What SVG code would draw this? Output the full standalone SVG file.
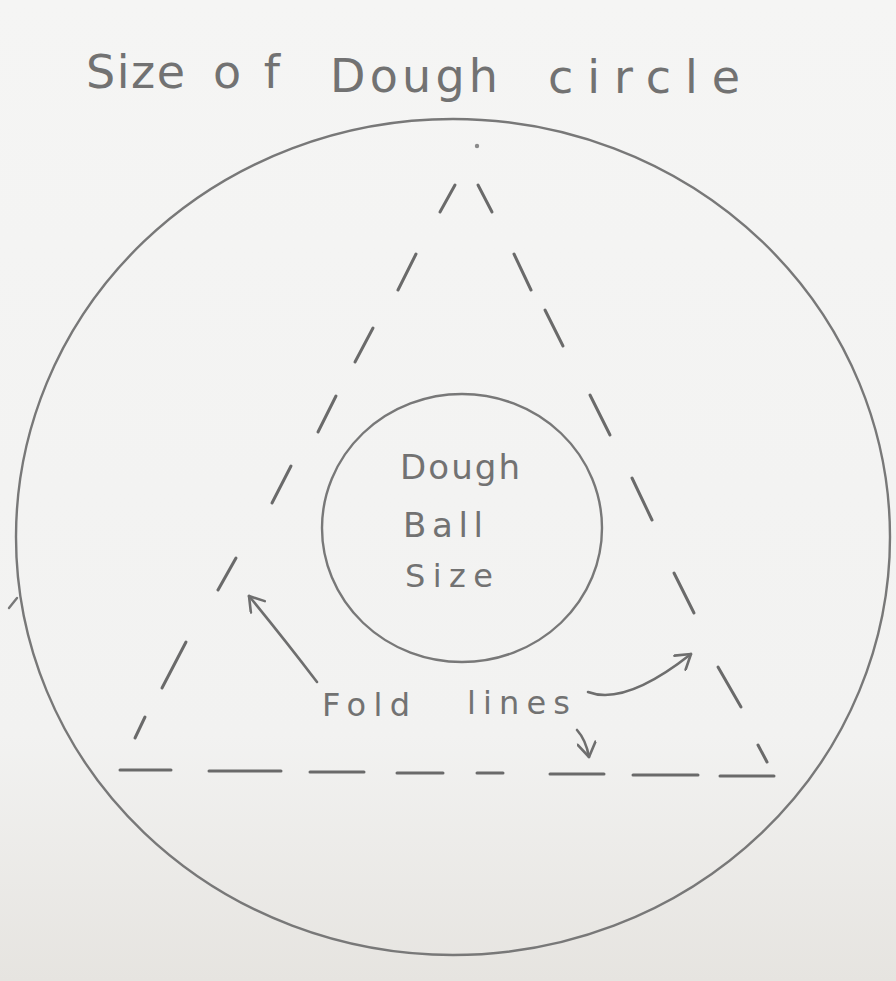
<svg xmlns="http://www.w3.org/2000/svg" width="896" height="981" viewBox="0 0 896 981">
  <defs>
    <linearGradient id="paper" x1="0" y1="0" x2="0" y2="1">
      <stop offset="0" stop-color="#f5f5f4"/>
      <stop offset="0.75" stop-color="#f2f2f1"/>
      <stop offset="1" stop-color="#e6e4e0"/>
    </linearGradient>
    <marker id="head" viewBox="0 0 20 20" refX="17" refY="10" markerWidth="20" markerHeight="20" markerUnits="userSpaceOnUse" orient="auto">
      <path d="M3,1 L17,10 L3,19" fill="none" stroke="#6e6e6e" stroke-width="2.6" stroke-linecap="round" stroke-linejoin="round"/>
    </marker>
    <style>
      .pencil { fill: none; stroke: #787878; stroke-width: 2.4; stroke-linecap: round; }
      .dash { fill: none; stroke: #6a6a6a; stroke-width: 3; stroke-linecap: round; }
      .hand { font-family: "DejaVu Sans", "Liberation Sans", sans-serif; fill: #727272; }
      .arrow { fill: none; stroke: #6e6e6e; stroke-width: 2.6; stroke-linecap: round; marker-end: url(#head); }
    </style>
  </defs>

  <rect x="0" y="0" width="896" height="981" fill="url(#paper)"/>

  <g id="title">
    <text class="hand" x="86" y="88" font-size="46" textLength="99" lengthAdjust="spacing">Size</text>
    <text class="hand" x="213" y="88" font-size="46" textLength="67" lengthAdjust="spacing">of</text>
    <text class="hand" x="330" y="92" font-size="46" textLength="168" lengthAdjust="spacing">Dough</text>
    <text class="hand" x="548" y="93" font-size="46" textLength="192" lengthAdjust="spacing">circle</text>
  </g>

  <g id="dough-circle">
    <ellipse class="pencil" cx="453" cy="537" rx="437" ry="418"/>
    <line class="pencil" x1="9" y1="608" x2="17" y2="598"/>
    <circle cx="477" cy="146" r="2.2" fill="#8a8a8a"/>
  </g>

  <g id="fold-triangle">
    <!-- left side -->
    <line class="dash" x1="440" y1="212" x2="455" y2="185"/>
    <line class="dash" x1="398" y1="290" x2="416" y2="254"/>
    <line class="dash" x1="355" y1="362" x2="373" y2="328"/>
    <line class="dash" x1="318" y1="432" x2="336" y2="396"/>
    <line class="dash" x1="272" y1="503" x2="291" y2="466"/>
    <line class="dash" x1="218" y1="590" x2="236" y2="558"/>
    <line class="dash" x1="162" y1="688" x2="186" y2="642"/>
    <line class="dash" x1="135" y1="738" x2="145" y2="717"/>
    <!-- right side -->
    <line class="dash" x1="478" y1="185" x2="492" y2="212"/>
    <line class="dash" x1="514" y1="254" x2="531" y2="290"/>
    <line class="dash" x1="545" y1="310" x2="563" y2="346"/>
    <line class="dash" x1="590" y1="395" x2="610" y2="435"/>
    <line class="dash" x1="632" y1="478" x2="652" y2="520"/>
    <line class="dash" x1="674" y1="573" x2="694" y2="613"/>
    <line class="dash" x1="718" y1="667" x2="741" y2="707"/>
    <line class="dash" x1="758" y1="745" x2="767" y2="762"/>
    <!-- base -->
    <line class="dash" x1="120" y1="770" x2="171" y2="770"/>
    <line class="dash" x1="209" y1="771" x2="281" y2="771"/>
    <line class="dash" x1="310" y1="772" x2="364" y2="772"/>
    <line class="dash" x1="397" y1="773" x2="443" y2="773"/>
    <line class="dash" x1="477" y1="773" x2="503" y2="773"/>
    <line class="dash" x1="550" y1="774" x2="604" y2="774"/>
    <line class="dash" x1="633" y1="775" x2="698" y2="775"/>
    <line class="dash" x1="720" y1="776" x2="774" y2="776"/>
  </g>

  <g id="dough-ball">
    <ellipse class="pencil" cx="462" cy="528" rx="140" ry="134"/>
    <text class="hand" x="400" y="479" font-size="34" textLength="120" lengthAdjust="spacing">Dough</text>
    <text class="hand" x="403" y="537" font-size="34" textLength="80" lengthAdjust="spacing">Ball</text>
    <text class="hand" x="405" y="587" font-size="32" textLength="88" lengthAdjust="spacing">Size</text>
  </g>

  <g id="fold-lines-label">
    <text class="hand" x="322" y="716" font-size="32" textLength="88" lengthAdjust="spacing">Fold</text>
    <text class="hand" x="467" y="714" font-size="32" textLength="103" lengthAdjust="spacing">lines</text>
  </g>

  <g id="connectors">
    <path class="arrow" d="M317,682 Q285,640 249,596"/>
    <path class="arrow" d="M588,692 Q625,706 691,654"/>
    <path class="arrow" d="M577,730 Q586,740 589,757"/>
  </g>
</svg>
